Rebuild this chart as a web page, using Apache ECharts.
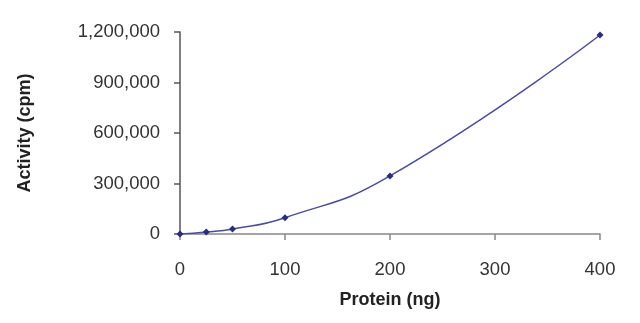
<!DOCTYPE html>
<html>
<head>
<meta charset="utf-8">
<script src="https://cdn.jsdelivr.net/npm/echarts@6/dist/echarts.min.js"></script>
<style>html,body{margin:0;padding:0;background:#fff;}#c{width:640px;height:323px;}</style>
</head>
<body>
<div id="c"></div>
<script>
const protein = [0, 25, 50, 100, 200, 400];
const activity = [0, 12000, 30000, 97000, 345000, 1182000];
const yTicks = [0, 300000, 600000, 900000, 1200000];
const xTicks = [0, 100, 200, 300, 400];
const xName = 'Protein (ng)';
const yName = 'Activity (cpm)';

const chart = echarts.init(document.getElementById('c'), null, {renderer: 'canvas'});
const font = 'Liberation Sans, Arial, sans-serif';
chart.setOption({
  animation: false,
  grid: {left: 180, right: 40, top: 32, bottom: 89, containLabel: false},
  xAxis: {
    type: 'value', min: xTicks[0], max: xTicks[xTicks.length-1], interval: 100,
    name: xName, nameLocation: 'middle', nameGap: 57,
    nameTextStyle: {fontFamily: font, fontSize: 18, fontWeight: 'bold', color: '#222'},
    axisLine: {show: true, lineStyle: {color: '#888', width: 1.5}},
    axisTick: {show: true, inside: false, length: 6, lineStyle: {color: '#888', width: 1.5}},
    axisLabel: {fontFamily: font, fontSize: 18.5, color: '#333', margin: 26},
    splitLine: {show: false}
  },
  yAxis: {
    type: 'value', min: yTicks[0], max: yTicks[yTicks.length-1], interval: 300000,
    name: yName, nameLocation: 'middle', nameGap: 146, nameRotate: 90,
    nameTextStyle: {fontFamily: font, fontSize: 18, fontWeight: 'bold', color: '#222'},
    axisLine: {show: true, lineStyle: {color: '#555', width: 1.5}},
    axisTick: {show: true, inside: false, length: 6, lineStyle: {color: '#555', width: 1.5}},
    axisLabel: {fontFamily: font, fontSize: 18.5, color: '#333', margin: 20,
      formatter: v => v.toLocaleString('en-US')},
    splitLine: {show: false}
  },
  series: [{
    type: 'line', smooth: 0.5,
    data: protein.map((p, i) => [p, activity[i]]),
    symbol: 'diamond', symbolSize: 7,
    lineStyle: {color: '#4a4aa8', width: 1.5},
    itemStyle: {color: '#2a2a88'}
  }]
});
</script>
</body>
</html>
